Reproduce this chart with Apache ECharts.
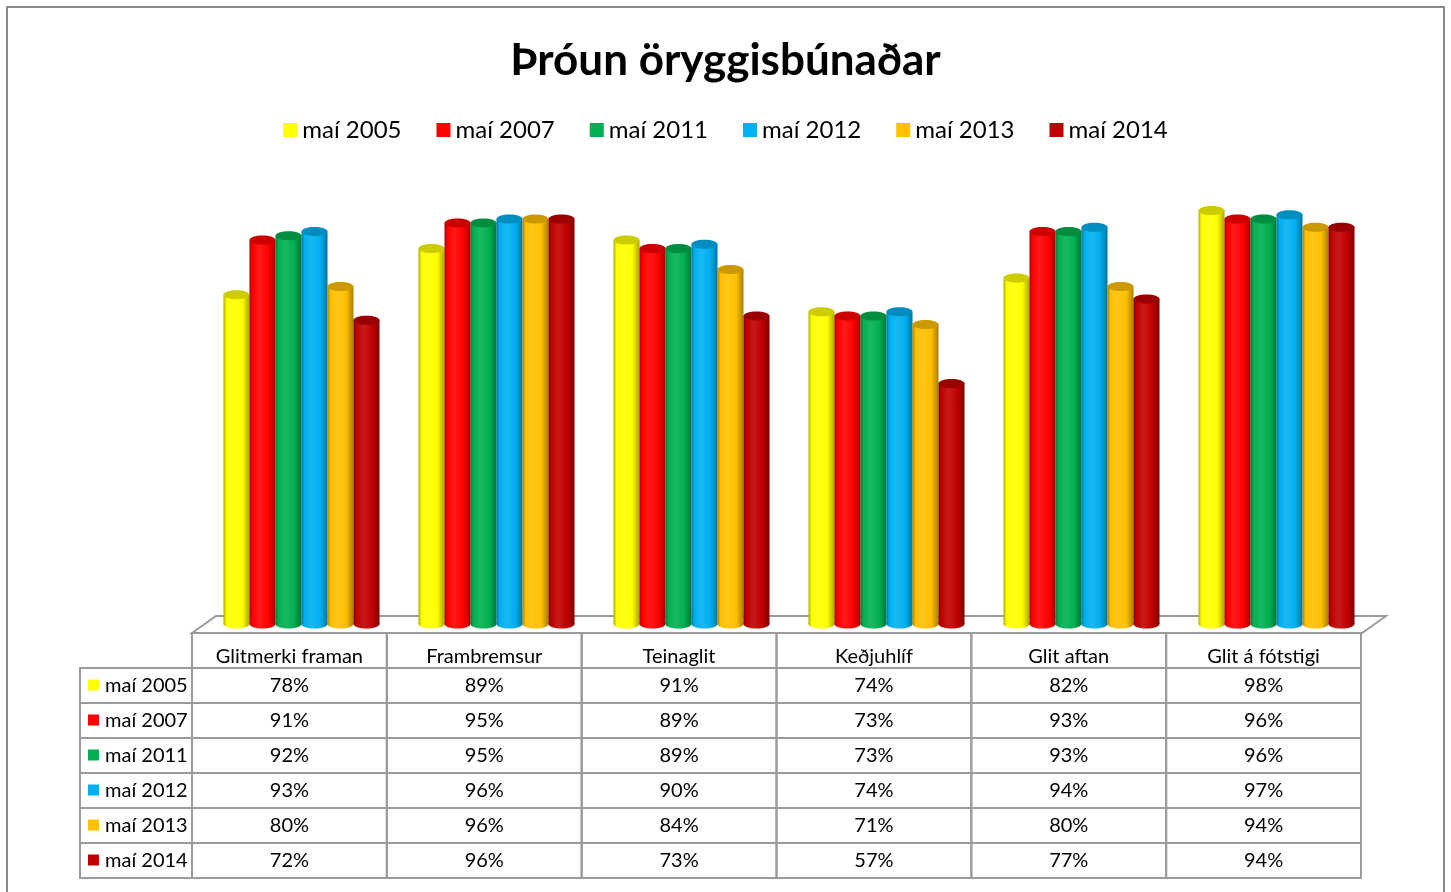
<!DOCTYPE html>
<html>
<head>
<meta charset="utf-8">
<title>Þróun öryggisbúnaðar</title>
<script src="https://cdn.jsdelivr.net/npm/echarts@6/dist/echarts.min.js"></script>
<style>
  html, body { margin: 0; padding: 0; background: #fff; }
  #chart { width: 1451px; height: 892px; }
</style>
</head>
<body>
<div id="chart"></div>
<script>
// Data
const categories = ["Glitmerki framan", "Frambremsur", "Teinaglit", "Keðjuhlíf", "Glit aftan", "Glit á fótstigi"];
const seriesNames = ["maí 2005", "maí 2007", "maí 2011", "maí 2012", "maí 2013", "maí 2014"];
const may2005 = [78, 89, 91, 74, 82, 98];
const may2007 = [91, 95, 89, 73, 93, 96];
const may2011 = [92, 95, 89, 73, 93, 96];
const may2012 = [93, 96, 90, 74, 94, 97];
const may2013 = [80, 96, 84, 71, 80, 94];
const may2014 = [72, 96, 73, 57, 77, 94];
const seriesValues = [may2005, may2007, may2011, may2012, may2013, may2014];

const colors = ["#FFFF00", "#FF0000", "#00B050", "#00B0F0", "#FFC000", "#C00000"];
const FONT = "Lato, 'Open Sans', sans-serif";
const LINE = "#9b9b9b";

function hexToRgb(hex) {
  const n = parseInt(hex.slice(1), 16);
  return [(n >> 16) & 255, (n >> 8) & 255, n & 255];
}
function shade(hex, f) {
  const c = hexToRgb(hex).map((v) => Math.round(v * f));
  return "rgb(" + c.join(",") + ")";
}
function lighten(hex, f) {
  const c = hexToRgb(hex).map((v) => Math.round(v + (255 - v) * f));
  return "rgb(" + c.join(",") + ")";
}

// One cylinder per data item, placed inside its category band
function cylinderRenderer(si) {
  return function (params, api) {
    const cat = api.value(0);
    const val = api.value(1);
    const base = api.coord([cat, 0]);
    const top = api.coord([cat, val]);
    const band = api.size([1, 0])[0];
    const groupW = band * 0.8;
    const w = groupW / seriesNames.length;
    const x = base[0] - groupW / 2 + si * w;
    const cx = x + w / 2;
    const rx = w / 2;
    const ry = 4.5;
    const c = colors[si];
    const body = new echarts.graphic.LinearGradient(0, 0, 1, 0, [
      { offset: 0, color: shade(c, 0.68) },
      { offset: 0.12, color: c },
      { offset: 0.38, color: lighten(c, 0.1) },
      { offset: 0.72, color: c },
      { offset: 1, color: shade(c, 0.66) },
    ]);
    return {
      type: "group",
      children: [
        { type: "ellipse", shape: { cx: cx, cy: base[1], rx: rx, ry: ry }, style: { fill: body } },
        { type: "rect", shape: { x: x, y: top[1], width: w, height: base[1] - top[1] }, style: { fill: body } },
        { type: "ellipse", shape: { cx: cx, cy: top[1], rx: rx, ry: ry }, style: { fill: shade(c, 0.8) } },
      ],
    };
  };
}

// 3D floor under the cylinders
function floorRenderer(params, api) {
  const cs = params.coordSys;
  const y0 = api.coord([0, 0])[1];
  const d = 8;
  const dx = 12;
  const left = cs.x;
  const right = cs.x + cs.width;
  return {
    type: "polygon",
    shape: {
      points: [
        [left - dx, y0 + d + 1],
        [left + dx, y0 - d],
        [right + dx, y0 - d],
        [right - dx, y0 + d + 1],
      ],
    },
    style: { fill: "#fff", stroke: LINE, lineWidth: 2 },
  };
}

// Data table cells: row 0 holds the category names, rows 1..6 the series
const tableData = [];
for (let r = 0; r <= seriesNames.length; r++) {
  for (let c = 0; c < categories.length; c++) {
    tableData.push([c, r]);
  }
}
const labelColW = 112;

function tableRenderer(params, api) {
  const c = api.value(0);
  const r = api.value(1);
  const center = api.coord([c, r]);
  const size = api.size([1, 1]);
  const x = center[0] - size[0] / 2;
  const y = center[1] - size[1] / 2;
  const text = r === 0 ? categories[c] : seriesValues[r - 1][c] + "%";
  const children = [
    { type: "rect", shape: { x: x, y: y, width: size[0], height: size[1] }, style: { fill: null, stroke: LINE, lineWidth: 2 } },
    {
      type: "text",
      style: {
        text: text,
        x: center[0],
        y: center[1] + (r === 0 ? 6 : 0),
        align: "center",
        verticalAlign: "middle",
        fontSize: 20,
        fontFamily: FONT,
        fill: "#000",
      },
    },
  ];
  if (c === 0 && r > 0) {
    const lx = x - labelColW;
    children.push(
      { type: "rect", shape: { x: lx, y: y, width: labelColW, height: size[1] }, style: { fill: null, stroke: LINE, lineWidth: 2 } },
      { type: "rect", shape: { x: lx + 8, y: center[1] - 6, width: 11, height: 11 }, style: { fill: colors[r - 1] } },
      {
        type: "text",
        style: {
          text: seriesNames[r - 1],
          x: lx + 25,
          y: center[1],
          align: "left",
          verticalAlign: "middle",
          fontSize: 20,
          fontFamily: FONT,
          fill: "#000",
        },
      }
    );
  }
  return { type: "group", children: children };
}

const chart = echarts.init(document.getElementById("chart"));

const series = [
  {
    type: "custom",
    name: "floor",
    xAxisIndex: 0,
    yAxisIndex: 0,
    data: [[0, 0]],
    renderItem: floorRenderer,
    silent: true,
    z: 1,
  },
];
seriesNames.forEach((name, si) => {
  series.push({
    type: "custom",
    name: name,
    xAxisIndex: 0,
    yAxisIndex: 0,
    itemStyle: { color: colors[si] },
    encode: { x: 0, y: 1 },
    data: seriesValues[si].map((v, i) => [i, v]),
    renderItem: cylinderRenderer(si),
    z: 2,
  });
});
series.push({
  type: "custom",
  name: "table",
  xAxisIndex: 1,
  yAxisIndex: 1,
  encode: { x: 0, y: 1 },
  data: tableData,
  renderItem: tableRenderer,
  silent: true,
  z: 3,
});

const option = {
  animation: false,
  color: colors,
  title: {
    text: "Þróun öryggisbúnaðar",
    left: "center",
    top: 34,
    textStyle: { fontSize: 44, fontWeight: "bold", fontFamily: FONT, color: "#000" },
  },
  legend: {
    data: seriesNames,
    top: 113,
    left: "center",
    icon: "rect",
    itemWidth: 14,
    itemHeight: 14,
    itemGap: 35,
    textStyle: { fontSize: 24, fontFamily: FONT, color: "#000" },
  },
  graphic: [
    {
      type: "rect",
      shape: { x: 7, y: 7, width: 1437, height: 900 },
      style: { fill: null, stroke: "#8a8a8a", lineWidth: 2 },
      silent: true,
      z: 0,
    },
  ],
  grid: [
    { left: 204, right: 77, top: 202, bottom: 268 },
    { left: 192, right: 90, top: 633, bottom: 14 },
  ],
  xAxis: [
    { type: "category", gridIndex: 0, data: categories, show: false },
    { type: "category", gridIndex: 1, data: categories, show: false },
  ],
  yAxis: [
    { type: "value", gridIndex: 0, min: 0, max: 100, show: false },
    { type: "category", gridIndex: 1, data: [""].concat(seriesNames), inverse: true, show: false },
  ],
  series: series,
};

chart.setOption(option);
</script>
</body>
</html>
